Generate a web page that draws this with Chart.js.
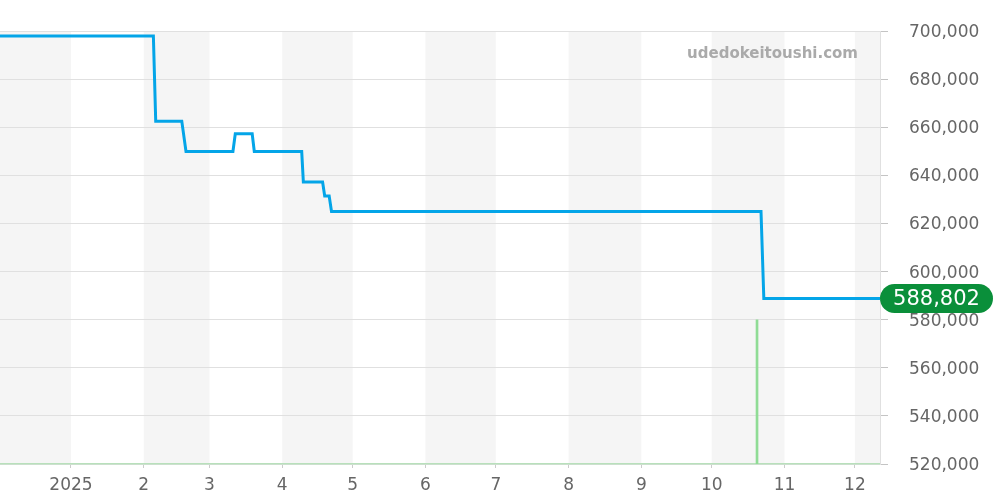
<!DOCTYPE html>
<html>
<head>
<meta charset="utf-8">
<script src="https://cdn.jsdelivr.net/npm/chart.js@4"></script>
<style>
  html, body { margin: 0; padding: 0; background: #fff; }
  #wrap { width: 1000px; height: 500px; }
</style>
</head>
<body>
<div id="wrap"><canvas id="priceChart"></canvas></div>
<script>
// dias contados desde el 1 de enero de 2025
const monthStarts = [0, 31, 59, 90, 120, 151, 181, 212, 243, 273, 304, 334];
const monthLabels = ["2025", "2", "3", "4", "5", "6", "7", "8", "9", "10", "11", "12"];
const shadedBands = [[-31, 0], [31, 59], [90, 120], [151, 181], [212, 243], [273, 304], [334, 346]];

const priceDays = [-30.25, 35.1, 36.1, 47.2, 49.0, 69.0, 70.0, 77.2, 78.1, 98.3, 99.0, 107.2, 108.1, 110.0, 111.0, 294.0, 295.2, 344.7];
const priceValues = [698000, 698000, 662600, 662600, 650000, 650000, 657300, 657300, 650000, 650000, 637300, 637300, 631500, 631500, 625000, 625000, 588802, 588802];

const volumeDays = [292.3];
const volumeValues = [1];

const watermark = "udedokeitoushi.com";

const linePoints = priceDays.map((d, i) => ({ x: d, y: priceValues[i] }));
const barPoints = volumeDays.map((d, i) => ({ x: d, y: volumeValues[i] }));

// bandas grises por mes alterno (antes de la rejilla)
const bandsPlugin = {
    id: 'bands',
    beforeDraw(chart) {
        const { ctx, chartArea, scales } = chart;
        ctx.save();
        ctx.fillStyle = '#f5f5f5';
        shadedBands.forEach(b => {
            const x1 = Math.max(scales.x.getPixelForValue(b[0]), chartArea.left);
            const x2 = Math.min(scales.x.getPixelForValue(b[1]), chartArea.right);
            ctx.fillRect(x1, chartArea.top, x2 - x1, chartArea.bottom - chartArea.top);
        });
        ctx.restore();
    }
};

// etiqueta del ultimo precio y marca de agua
const labelPlugin = {
    id: 'lastLabel',
    afterDraw(chart) {
        const { ctx, chartArea, scales } = chart;
        const last = priceValues[priceValues.length - 1];
        const y = scales.y.getPixelForValue(last);
        const x = chartArea.right;
        const w = 113, h = 29, r = 14.5;
        ctx.save();
        ctx.fillStyle = '#0a8f3a';
        ctx.beginPath();
        ctx.roundRect(x, y - h / 2, w, h, r);
        ctx.fill();
        ctx.fillStyle = '#ffffff';
        ctx.font = '21px "DejaVu Sans"';
        ctx.textAlign = 'center';
        ctx.textBaseline = 'middle';
        ctx.fillText(last.toLocaleString('en-US'), x + w / 2, y + 1);

        ctx.fillStyle = '#aaaaaa';
        ctx.font = 'bold 15px "DejaVu Sans"';
        ctx.textAlign = 'right';
        ctx.fillText(watermark, chartArea.right - 22, chartArea.top + 23);
        ctx.restore();
    }
};

const ctx = document.getElementById('priceChart').getContext('2d');
new Chart(ctx, {
    data: {
        datasets: [
            {
                type: 'line',
                data: linePoints,
                borderColor: '#04a5e8',
                borderWidth: 3,
                pointRadius: 0,
                tension: 0,
                yAxisID: 'y',
                order: 1
            },
            {
                type: 'bar',
                data: barPoints,
                backgroundColor: '#8fdc95',
                barThickness: 2,
                yAxisID: 'y2',
                order: 2
            }
        ]
    },
    options: {
        responsive: true,
        maintainAspectRatio: false,
        animation: false,
        layout: { padding: { top: 30, left: 0, right: 0, bottom: 0 } },
        plugins: {
            legend: { display: false },
            tooltip: { enabled: false }
        },
        scales: {
            x: {
                type: 'linear',
                offset: false,
                min: -30.25,
                max: 344.7,
                afterBuildTicks: axis => {
                    axis.ticks = monthStarts.map(v => ({ value: v }));
                },
                afterFit: axis => { axis.height = 36; },
                ticks: {
                    autoSkip: false,
                    maxRotation: 0,
                    color: '#666',
                    font: { family: 'DejaVu Sans', size: 17 },
                    padding: 7,
                    callback: function (value) {
                        const i = monthStarts.indexOf(value);
                        return i >= 0 ? monthLabels[i] : '';
                    }
                },
                grid: {
                    offset: false,
                    drawOnChartArea: false,
                    drawTicks: true,
                    tickLength: 4,
                    color: '#cccccc'
                },
                border: { color: '#b8e0bb', width: 1.5, dash: [2, 1] }
            },
            y: {
                position: 'right',
                min: 520000,
                max: 700000,
                afterFit: axis => { axis.width = 120; },
                ticks: {
                    stepSize: 20000,
                    color: '#666',
                    padding: 21,
                    labelOffset: 1.5,
                    font: { family: 'DejaVu Sans', size: 17 },
                    callback: v => v.toLocaleString('en-US')
                },
                grid: {
                    color: '#e0e0e0',
                    tickLength: 8,
                    tickColor: '#c4c4c4'
                },
                border: { color: '#e0e0e0' }
            },
            y2: {
                display: false,
                min: 0,
                max: 3
            }
        }
    },
    plugins: [bandsPlugin, labelPlugin]
});
</script>
</body>
</html>
